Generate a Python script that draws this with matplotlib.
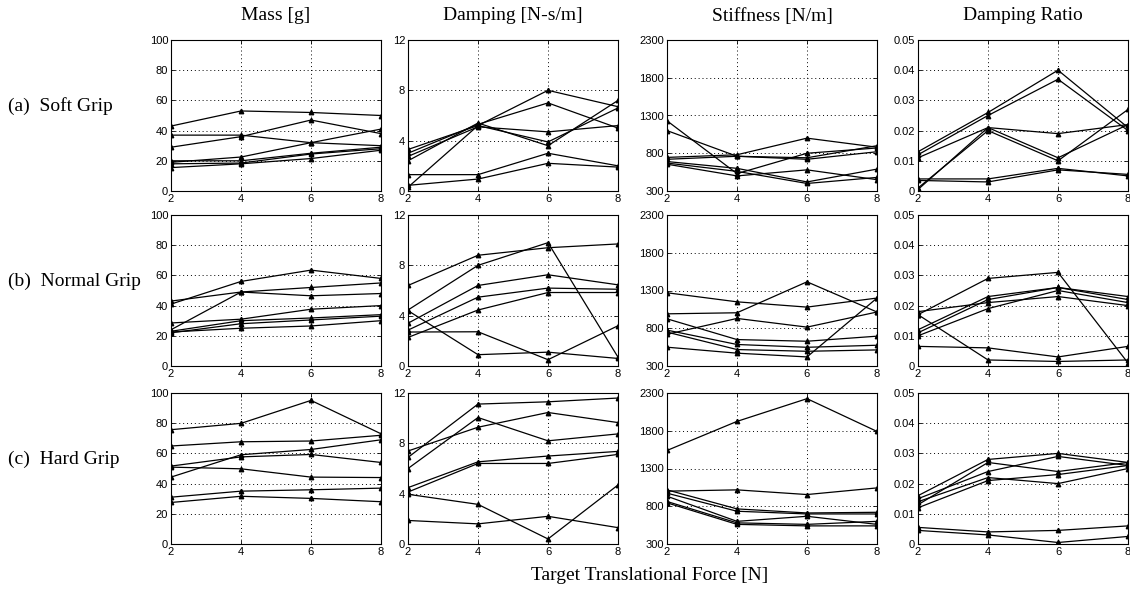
import numpy as np
import matplotlib
matplotlib.use('Agg')
import matplotlib.pyplot as plt

# target force levels
force = [2, 4, 6, 8]

col_titles = ['Mass [g]', 'Damping [N-s/m]', 'Stiffness [N/m]', 'Damping Ratio']
row_titles = ['(a)  Soft Grip', '(b)  Normal Grip', '(c)  Hard Grip']

# (a) soft grip
mass_soft = [[43, 53, 52, 50], [37, 37, 32, 30], [29, 36, 47, 38], [19, 22.5, 32, 41],
             [20, 20, 25, 29], [18, 18.5, 24.5, 28], [15.5, 18, 21.5, 27]]
damp_soft = [[3.3, 5.2, 8.0, 6.7], [3.0, 5.3, 7.0, 5.0], [2.75, 5.1, 4.7, 5.2],
             [2.4, 5.4, 3.6, 7.2], [0.3, 5.2, 3.9, 6.6], [1.3, 1.3, 3.0, 2.0],
             [0.45, 0.95, 2.2, 1.9]]
stiff_soft = [[1230, 530, 800, 870], [1100, 760, 740, 900], [745, 780, 1000, 880],
              [720, 760, 720, 820], [690, 600, 420, 590], [670, 560, 400, 480],
              [655, 500, 580, 450]]
ratio_soft = [[0.013, 0.026, 0.040, 0.021], [0.012, 0.025, 0.037, 0.020],
              [0.011, 0.021, 0.019, 0.022], [0.001, 0.020, 0.010, 0.027],
              [0.0005, 0.021, 0.011, 0.022], [0.004, 0.004, 0.0075, 0.005],
              [0.0035, 0.003, 0.007, 0.0055]]

# (b) normal grip
mass_norm = [[41, 56, 63.5, 58], [43, 49, 52, 55], [24, 49, 46.5, 48],
             [28.5, 31, 37.6, 40], [23, 30, 31.8, 34], [22, 28, 30.5, 33],
             [22.5, 25, 26.5, 30]]
damp_norm = [[6.4, 8.8, 9.4, 9.7], [4.45, 8.0, 9.8, 0.7], [3.4, 6.4, 7.25, 6.45],
             [2.85, 5.47, 6.19, 6.1], [2.27, 4.45, 5.84, 5.84], [4.4, 0.9, 1.1, 0.6],
             [2.7, 2.72, 0.5, 3.2]]
stiff_norm = [[1270, 1150, 1080, 1200], [720, 930, 815, 1015], [991, 1005, 1415, 1015],
              [925, 650, 628, 695], [775, 585, 548, 575], [749, 518, 495, 513],
              [549, 470, 420, 1200]]
ratio_norm = [[0.017, 0.029, 0.031, 0.001], [0.012, 0.023, 0.026, 0.023],
              [0.011, 0.022, 0.026, 0.022], [0.010, 0.019, 0.025, 0.021],
              [0.018, 0.021, 0.023, 0.020], [0.0065, 0.006, 0.003, 0.0065],
              [0.017, 0.002, 0.0015, 0.002]]

# (c) hard grip
mass_hard = [[75.7, 79.9, 95.1, 73], [64.9, 67.7, 68.2, 72], [44.3, 59.1, 62.6, 69],
             [51.6, 57.7, 59.3, 54], [50.9, 49.8, 44.3, 44], [31, 35, 35.9, 37],
             [27.5, 31.6, 30.2, 28]]
damp_hard = [[6.88, 11.12, 11.3, 11.6], [6.0, 10.05, 8.2, 8.75], [7.39, 9.28, 10.45, 9.65],
             [4.48, 6.53, 6.99, 7.36], [4.13, 6.4, 6.4, 7.12], [3.95, 3.15, 0.4, 4.69],
             [1.87, 1.6, 2.2, 1.3]]
stiff_hard = [[1539, 1924, 2225, 1791], [1000, 1017, 955, 1043], [1017, 765, 711, 720],
              [973, 734, 698, 698], [933, 600, 667, 560], [863, 580, 560, 600],
              [845, 560, 540, 540]]
ratio_hard = [[0.016, 0.028, 0.030, 0.027], [0.015, 0.024, 0.029, 0.026],
              [0.014, 0.022, 0.020, 0.025], [0.012, 0.021, 0.023, 0.026],
              [0.013, 0.027, 0.024, 0.027], [0.0055, 0.004, 0.0045, 0.006],
              [0.0045, 0.003, 0.0005, 0.0025]]

data = [[mass_soft, damp_soft, stiff_soft, ratio_soft],
        [mass_norm, damp_norm, stiff_norm, ratio_norm],
        [mass_hard, damp_hard, stiff_hard, ratio_hard]]

ylims = [(0, 100), (0, 12), (300, 2300), (0, 0.05)]
yticks = [[0, 20, 40, 60, 80, 100], [0, 4, 8, 12], [300, 800, 1300, 1800, 2300],
          [0, 0.01, 0.02, 0.03, 0.04, 0.05]]
ytlabels = [None, None, None, ['0', '0.01', '0.02', '0.03', '0.04', '0.05']]

W, H = 1130, 591
fig = plt.figure(figsize=(W / 100, H / 100), dpi=100)

col_left = [171, 408, 667, 918]
row_top = [40, 215, 393]
ax_w, ax_h = 210, 151

serif = 'Liberation Serif'
sans = 'Liberation Sans'

for r in range(3):
    for c in range(4):
        ax = fig.add_axes([col_left[c] / W, 1 - (row_top[r] + ax_h) / H, ax_w / W, ax_h / H])
        for s in data[r][c]:
            ax.plot(force, s, color='black', lw=0.9, marker='^', ms=3.2)
        ax.set_xlim(2, 8)
        ax.set_ylim(*ylims[c])
        ax.set_xticks(force)
        ax.set_yticks(yticks[c])
        if ytlabels[c] is not None:
            ax.set_yticklabels(ytlabels[c])
        ax.grid(True, color='black', linestyle=(0, (1, 3)), lw=0.7)
        ax.tick_params(direction='in', length=3, width=0.6, labelsize=8, pad=2,
                       top=True, right=True)
        for lab in ax.get_xticklabels() + ax.get_yticklabels():
            lab.set_fontfamily(sans)
        for sp in ax.spines.values():
            sp.set_linewidth(0.8)
        if r == 0:
            fig.text((col_left[c] + ax_w / 2) / W, 1 - 16 / H, col_titles[c],
                     fontsize=14, family=serif, ha='center', va='center')
    fig.text(8 / W, 1 - (row_top[r] + 66) / H, row_titles[r], fontsize=14,
             family=serif, ha='left', va='center')

fig.text((171 + 918 + 210) / 2 / W, 1 - 576 / H, 'Target Translational Force [N]',
         fontsize=14, family=serif, ha='center', va='center')

fig.savefig('out.png', dpi=100)
